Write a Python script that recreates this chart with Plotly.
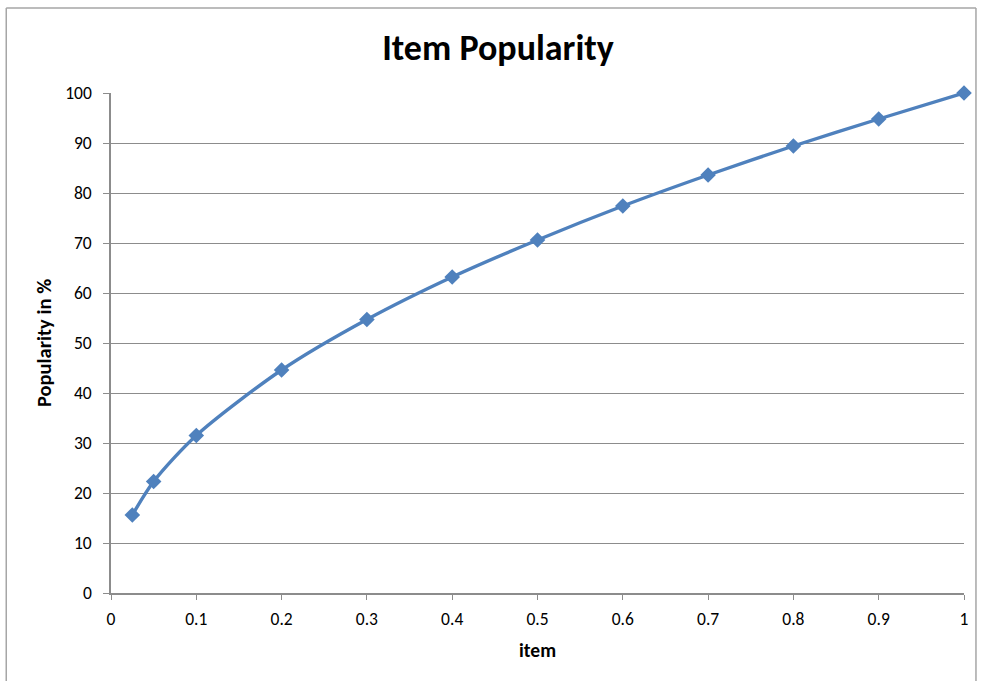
import plotly.graph_objects as go

# Share of items vs. popularity share
item = [0.025, 0.05, 0.1, 0.2, 0.3, 0.4, 0.5, 0.6, 0.7, 0.8, 0.9, 1.0]
popularity = [15.6, 22.3, 31.5, 44.6, 54.7, 63.2, 70.6, 77.4, 83.6, 89.4, 94.8, 100.0]

x_ticks = [0, 0.1, 0.2, 0.3, 0.4, 0.5, 0.6, 0.7, 0.8, 0.9, 1]
x_tick_text = ["0", "0.1", "0.2", "0.3", "0.4", "0.5", "0.6", "0.7", "0.8", "0.9", "1"]
y_ticks = [0, 10, 20, 30, 40, 50, 60, 70, 80, 90, 100]

blue = "#4F81BD"
grid = "#8C8C8C"
font_family = "Carlito, Calibri, 'Open Sans', sans-serif"

fig = go.Figure(
    go.Scatter(
        x=item,
        y=popularity,
        mode="lines+markers",
        line=dict(color=blue, width=3.4, shape="spline", smoothing=0.8),
        marker=dict(symbol="diamond", size=12, color=blue),
        cliponaxis=False,
        showlegend=False,
    )
)

fig.update_layout(
    width=981,
    height=681,
    margin=dict(l=111, r=15, t=93, b=88),
    paper_bgcolor="white",
    plot_bgcolor="white",
    font=dict(family=font_family, color="#000000"),
    title=dict(
        text="<b>Item Popularity</b>",
        x=498 / 981,
        xanchor="center",
        y=1 - 47 / 681,
        yanchor="middle",
        font=dict(size=36, family=font_family),
    ),
    xaxis=dict(
        range=[0, 1],
        tickvals=x_ticks,
        ticktext=x_tick_text,
        showgrid=False,
        zeroline=False,
        showline=True,
        linecolor=grid,
        linewidth=1.5,
        ticks="outside",
        ticklen=5,
        tickcolor=grid,
        tickfont=dict(size=17.5),
        ticklabelstandoff=4,
        title=dict(text="<b>item</b>", font=dict(size=19.5), standoff=15),
    ),
    yaxis=dict(
        range=[0, 100],
        tickvals=y_ticks,
        showgrid=True,
        gridcolor=grid,
        gridwidth=1.2,
        zeroline=False,
        showline=True,
        linecolor=grid,
        linewidth=1.5,
        ticks="outside",
        ticklen=6,
        tickcolor=grid,
        tickfont=dict(size=17.5),
        ticklabelstandoff=8,
        title=dict(text="<b>Popularity in %</b>", font=dict(size=20.5), standoff=8),
    ),
)

# Chart frame: top, left and right edges
x_left = (6 - 111) / 855
x_right = (978 - 111) / 855
y_top = (593 - 8) / 500
y_bottom = (593 - 700) / 500
fig.add_shape(type="line", xref="paper", yref="paper", x0=x_left, x1=x_right, y0=y_top, y1=y_top,
              line=dict(color="#A6A6A6", width=1.5))
fig.add_shape(type="line", xref="paper", yref="paper", x0=x_left, x1=x_left, y0=y_top, y1=y_bottom,
              line=dict(color="#A6A6A6", width=1.5))
fig.add_shape(type="line", xref="paper", yref="paper", x0=x_right, x1=x_right, y0=y_top, y1=y_bottom,
              line=dict(color="#A6A6A6", width=1.5))

fig.write_html("out.html")
